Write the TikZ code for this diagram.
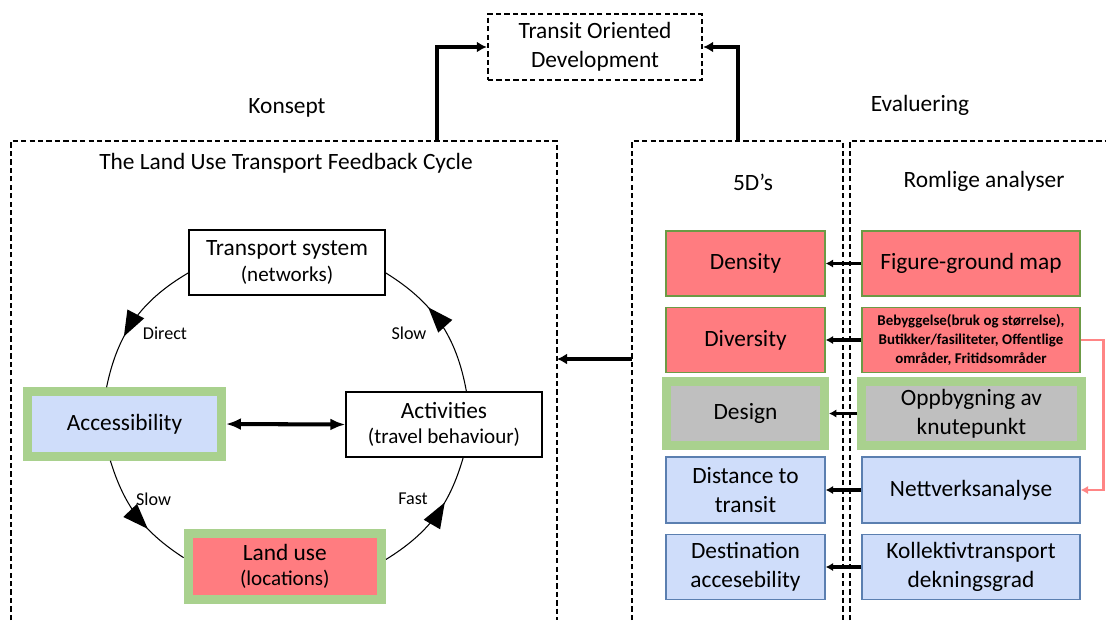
\documentclass[tikz,border=0pt]{standalone}
\usepackage{fontspec}
\setmainfont{Carlito}
\usepackage{xcolor}
\usetikzlibrary{arrows.meta,decorations.markings,positioning}

\definecolor{todgreen}{HTML}{A9D18E}
\definecolor{todred}{HTML}{FF7C80}
\definecolor{todblue}{HTML}{CFDDFA}
\definecolor{todgrey}{HTML}{BFBFBF}
\definecolor{rededge}{HTML}{6C9A45}
\definecolor{blueedge}{HTML}{5B7FB0}
\definecolor{pinkline}{HTML}{FF8585}

\newcommand{\boxfont}{\fontsize{13.3}{16.4}\selectfont}
\newcommand{\subfont}{\fontsize{12}{14}\selectfont}
\newcommand{\notefont}{\fontsize{10.3}{12}\selectfont}
\newcommand{\smallbold}{\fontsize{8.5}{10.8}\selectfont\bfseries}

\begin{document}
\begin{tikzpicture}[x=0.02cm,y=0.02cm,
    dashframe/.style={line width=1.4pt,dash pattern=on 3pt off 1.8pt},
    heavy/.style={line width=2.3pt,-{Latex[length=0.2cm,width=0.22cm]}},
    link/.style={line width=2.1pt,-{Latex[length=0.15cm,width=0.17cm]}},
    cyc/.style={line width=0.6pt,postaction={decorate},decoration={markings,
      mark=at position 0.63 with {\fill (0pt,0pt) -- (-14.5pt,5.4pt) -- (-14.5pt,-5.4pt) -- cycle;}}},
    whitebox/.style={draw,fill=white,line width=0.8pt,align=center,font=\boxfont,
      minimum width=3.92cm,minimum height=1.3cm},
    greenbox/.style={draw=todgreen,line width=0.18cm,align=center,font=\boxfont},
    dbox/.style={draw,line width=0.8pt,align=center,font=\boxfont,minimum height=1.3cm},
    redbox/.style={dbox,draw=rededge,fill=todred},
    bluebox/.style={dbox,draw=blueedge,fill=todblue},
    cyclenote/.style={font=\notefont,inner sep=1pt}]

  \useasboundingbox (0,0) rectangle (1106,-620);

  % headings
  \node[dashframe,draw,align=center,font=\boxfont,minimum width=4.28cm,minimum height=1.32cm]
    (tod) at (595,-47) {Transit Oriented\\Development};
  \node[font=\boxfont] (konsept) at (287,-108) {Konsept};
  \node[font=\boxfont] (evaluering) at (920,-105) {Evaluering};

  % frames, open at the bottom
  \draw[dashframe] (11,-620) |- (557,-141) -- (557,-620);
  \draw[dashframe] (632,-620) |- (843,-141) -- (843,-620);
  \draw[dashframe] (850,-620) |- (1106,-141);
  \coordinate (konseptup) at (437,-141);
  \coordinate (evalup) at (738,-141);
  \coordinate (evalin) at (632,-359);
  \coordinate (cycleout) at (557,-359);

  \draw[heavy] (konseptup) |- (tod.west);
  \draw[heavy] (evalup) |- (tod.east);
  \draw[heavy] (evalin) -- (cycleout);

  \node[font=\boxfont] (cycletitle) at (286,-163) {The Land Use Transport Feedback Cycle};
  \node[font=\boxfont] (fived) at (753,-182) {5D’s};
  \node[font=\boxfont] (romlige) at (984,-181) {Romlige analyser};

  % feedback cycle
  \node[whitebox] (trans) at (287,-262.5) {Transport system\\[-2pt]{\subfont (networks)}};
  \node[whitebox] (act) at (444,-424.5) {Activities\\[-2pt]{\subfont (travel behaviour)}};
  \node[greenbox,fill=todblue,minimum width=3.88cm,minimum height=1.29cm]
    (acc) at (124.5,-424) {Accessibility};
  \node[greenbox,fill=todred,minimum width=3.87cm,minimum height=1.32cm]
    (land) at (284.8,-566.5) {Land use\\[-2pt]{\subfont (locations)}};

  \draw[cyc] (trans.186) to[bend right=24] (acc.116);
  \draw[cyc] (acc.249) to[bend right=20] (land.175);
  \draw[cyc] (land.4) to[bend right=21] (act.300);
  \draw[cyc] (act.56) to[bend right=24] (trans.354);
  \draw[line width=2.3pt,{Latex[length=0.3cm,width=0.24cm]}-{Latex[length=0.3cm,width=0.24cm]}]
    (acc.east) -- (act.west);

  \node[cyclenote] (direct) at (165,-333) {Direct};
  \node[cyclenote] (slowup) at (409,-333) {Slow};
  \node[cyclenote] (slowdown) at (153.6,-499) {Slow};
  \node[cyclenote] (fast) at (413,-499) {Fast};

  % 5D's
  \node[redbox,minimum width=3.18cm] (dens) at (745.5,-263.5) {Density};
  \node[redbox,minimum width=3.18cm] (div) at (745.5,-340) {Diversity};
  \node[greenbox,fill=todgrey,minimum width=3.16cm,minimum height=1.28cm]
    (design) at (745.5,-413.5) {Design};
  \node[bluebox,minimum width=3.18cm,minimum height=1.32cm] (dist) at (745.5,-490) {Distance to\\transit};
  \node[bluebox,minimum width=3.18cm] (dest) at (745.5,-567) {Destination\\accesebility};

  % spatial analyses
  \node[redbox,minimum width=4.36cm] (fig) at (971,-263.5) {Figure-ground map};
  \node[redbox,minimum width=4.36cm,font=\smallbold] (beb) at (971,-340)
    {Bebyggelse(bruk og størrelse),\\Butikker/fasiliteter, Offentlige\\områder, Fritidsområder};
  \node[greenbox,fill=todgrey,minimum width=4.4cm,minimum height=1.28cm]
    (opp) at (971.5,-413.5) {Oppbygning av\\knutepunkt};
  \node[bluebox,minimum width=4.36cm,minimum height=1.32cm] (nett) at (971,-490) {Nettverksanalyse};
  \node[bluebox,minimum width=4.36cm] (koll) at (971,-567) {Kollektivtransport\\dekningsgrad};

  \draw[link] (fig) -- (dens);
  \draw[link] (beb) -- (div);
  \draw[link] (opp) -- (design);
  \draw[link] (nett) -- (dist);
  \draw[link] (koll) -- (dest);
  \draw[pinkline,line width=1.6pt,-{Latex[length=0.15cm,width=0.17cm]}]
    (beb.east) -- ++(23,0) |- (nett.east);
\end{tikzpicture}
\end{document}
